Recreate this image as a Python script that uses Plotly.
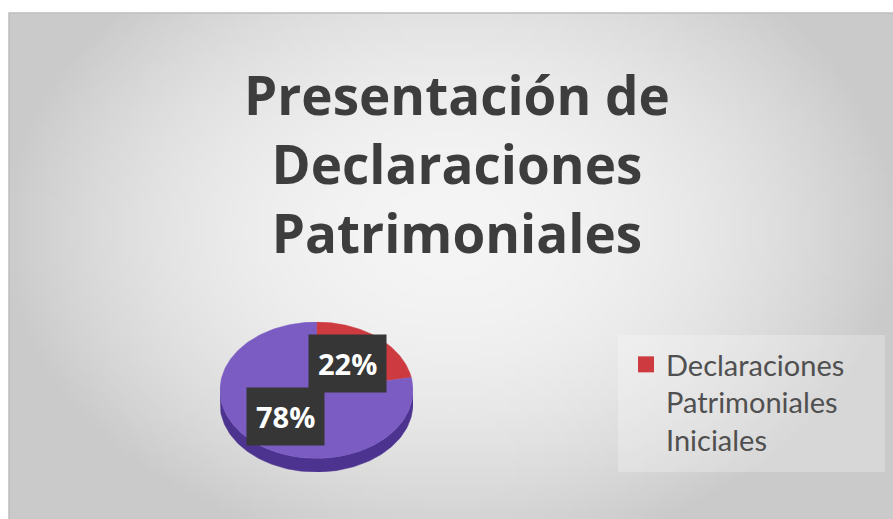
import base64
import math
import struct
import zlib

import numpy as np
import plotly.graph_objects as go

W, H = 893, 519

# ---- data -------------------------------------------------------------
categories = ["Declaraciones Patrimoniales Iniciales", "Otras declaraciones"]
percentages = [22, 78]
legend_label = "Declaraciones<br>Patrimoniales<br>Iniciales"
title_lines = ["Presentación de", "Declaraciones", "Patrimoniales"]

# ---- style ------------------------------------------------------------
face_colors = ["#cd3a40", "#7b5cc3"]
side_colors = ["#8c2428", "#4d3390"]
depth = 0.2          # thickness of the tilted pie, in y-axis units


def px(x):
    return x / W


def py(y):
    return 1 - y / H


def png_gray(arr):
    """Encode a 2-D uint8 array as a grayscale PNG data URI."""
    h, w = arr.shape
    raw = b"".join(b"\x00" + arr[r].tobytes() for r in range(h))

    def chunk(tag, data):
        c = struct.pack(">I", len(data)) + tag + data
        return c + struct.pack(">I", zlib.crc32(tag + data) & 0xFFFFFFFF)

    png = b"\x89PNG\r\n\x1a\n"
    png += chunk(b"IHDR", struct.pack(">IIBBBBB", w, h, 8, 0, 0, 0, 0))
    png += chunk(b"IDAT", zlib.compress(raw, 9))
    png += chunk(b"IEND", b"")
    return "data:image/png;base64," + base64.b64encode(png).decode()


# radial gray backdrop of the chart area
gw, gh = 160, 92
gx = np.linspace(9, W, gw)
gy = np.linspace(13, H, gh)
X, Y = np.meshgrid(gx, gy)
r2 = ((X - 450) / 450) ** 2 + ((Y - 230) / 330) ** 2
shade = np.clip(245 - 42 * r2, 202, 255).astype(np.uint8)
backdrop = png_gray(shade)

fig = go.Figure()

# ---- pie: side wall, then top faces ----------------------------------
total = sum(percentages)
bounds = np.cumsum([0] + percentages) / total * 360.0

for i in range(len(percentages)):
    a0, a1 = bounds[i], bounds[i + 1]
    lo, hi = max(a0, 90.0), min(a1, 270.0)
    if hi > lo:
        t = np.radians(np.linspace(lo, hi, 120))
        sx = np.concatenate([np.sin(t), np.sin(t[::-1])])
        sy = np.concatenate([np.cos(t), np.cos(t[::-1]) - depth])
        fig.add_trace(go.Scatter(
            x=sx, y=sy, mode="lines", fill="toself",
            fillcolor=side_colors[i], line=dict(width=0.5, color=side_colors[i]),
            hoverinfo="skip", showlegend=False))

for i in range(len(percentages)):
    a0, a1 = bounds[i], bounds[i + 1]
    t = np.radians(np.linspace(a0, a1, 200))
    fx = np.concatenate([[0.0], np.sin(t), [0.0]])
    fy = np.concatenate([[0.0], np.cos(t), [0.0]])
    fig.add_trace(go.Scatter(
        x=fx, y=fy, mode="lines", fill="toself",
        fillcolor=face_colors[i], line=dict(width=0.5, color=face_colors[i]),
        name=categories[i], hoverinfo="name", showlegend=False))

# legend entry for the first category
fig.add_trace(go.Scatter(
    x=[None], y=[None], mode="markers",
    marker=dict(symbol="square", size=16, color=face_colors[0]),
    name=legend_label, showlegend=True))

# ---- percentage labels ------------------------------------------------
annotations = []
for i, v in enumerate(percentages):
    mid = math.radians((bounds[i] + bounds[i + 1]) / 2)
    annotations.append(dict(
        x=0.5 * math.sin(mid), y=0.5 * math.cos(mid), xref="x", yref="y",
        text=f"{v}%", showarrow=False, bgcolor="#363636", borderpad=9,
        font=dict(family="Open Sans", size=29, color="white", weight="bold")))

# ---- title ------------------------------------------------------------
annotations.append(dict(
    x=px(457), y=py(163), xref="paper", yref="paper",
    xanchor="center", yanchor="middle", showarrow=False,
    text="<br>".join(title_lines),
    font=dict(family="Open Sans", size=53, color="#3d3d3d", weight="bold")))

fig.update_layout(
    width=W, height=H,
    margin=dict(l=0, r=0, t=0, b=0),
    paper_bgcolor="white", plot_bgcolor="rgba(0,0,0,0)",
    xaxis=dict(domain=[px(220), px(413)], range=[-1, 1], visible=False, fixedrange=True),
    yaxis=dict(domain=[py(472), py(322)], range=[-1 - depth, 1], visible=False, fixedrange=True),
    images=[dict(source=backdrop, xref="paper", yref="paper",
                 x=px(9), y=py(13), sizex=px(W - 9), sizey=(H - 13) / H,
                 xanchor="left", yanchor="top", sizing="stretch", layer="below")],
    shapes=[
        dict(type="rect", xref="paper", yref="paper",
             x0=px(9), y0=-0.01, x1=1.01, y1=py(13),
             line=dict(color="#bdbdbd", width=1.5), fillcolor="rgba(0,0,0,0)", layer="below"),
        dict(type="rect", xref="paper", yref="paper",
             x0=px(618), y0=py(472), x1=px(885), y1=py(335),
             line=dict(width=0), fillcolor="rgba(255,255,255,0.25)", layer="below"),
    ],
    legend=dict(x=px(626), y=py(339), xanchor="left", yanchor="top",
                bgcolor="rgba(0,0,0,0)", valign="top",
                font=dict(family="Lato", size=29, color="#505050")),
    annotations=annotations,
    showlegend=True,
)

fig.write_html("out.html")
